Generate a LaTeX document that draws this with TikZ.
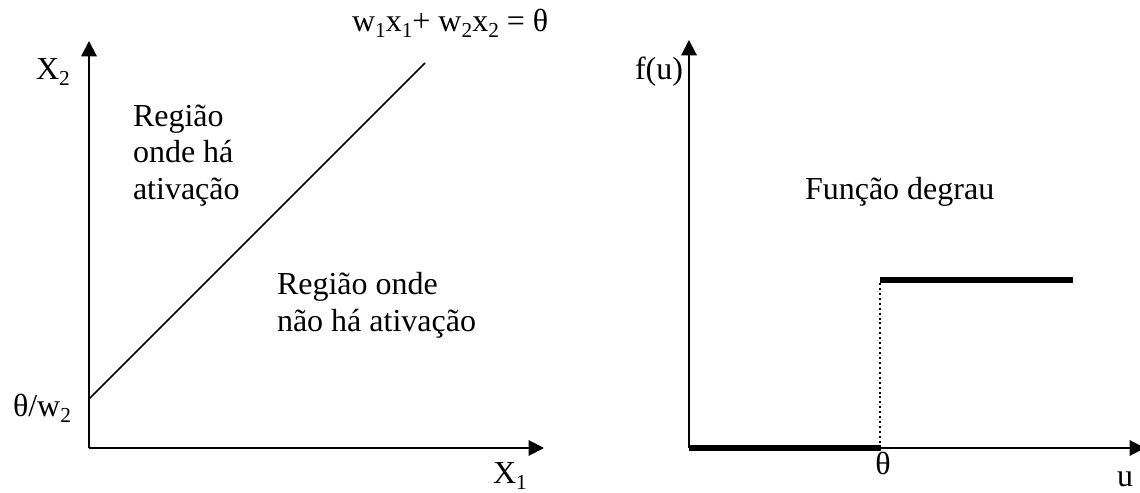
\documentclass[tikz,border=0pt]{standalone}
\usepackage{fontspec}
\setmainfont{Liberation Serif}
\usetikzlibrary{arrows.meta}
\newcommand{\sbs}[1]{\raisebox{-0.17em}{\fontsize{8}{8}\selectfont #1}}
\begin{document}
\begin{tikzpicture}[x=0.375pt,y=-0.375pt,
  lbl/.style={inner sep=0pt,outer sep=0pt,font=\fontsize{12}{13.9}\selectfont},
  axis/.style={line width=0.75pt,-{Triangle[length=5.8pt,width=5.8pt]}},
  thinline/.style={line width=0.6pt},
  thickline/.style={line width=1.9pt},
  dotline/.style={line width=0.6pt,dash pattern=on 0.75pt off 1.1pt}]
\useasboundingbox (0,0) rectangle (1140,493);
\clip (0,0) rectangle (1140,493);
% left chart
\coordinate (O1) at (89,448);
\coordinate (Y1) at (89,41);
\coordinate (X1) at (544,448);
\coordinate (L0) at (89,399);
\coordinate (L1) at (425,63);
\draw[axis] (O1) -- (Y1);
\draw[axis] (O1) -- (X1);
\draw[thinline] (L0) -- (L1);
\node[lbl,anchor=base west] (eq) at (352,32) {w\sbs{1}x\sbs{1}+ w\sbs{2}x\sbs{2} = θ};
\node[lbl,anchor=base west] (x2) at (36,80) {X\sbs{2}};
\node[lbl,anchor=base west] (x1) at (493,484) {X\sbs{1}};
\node[lbl,anchor=base west] (tw) at (13,417) {θ/w\sbs{2}};
\node[lbl,anchor=base west] (ra1) at (133,127) {Região};
\node[lbl,anchor=base west] (ra2) at (133,163) {onde há};
\node[lbl,anchor=base west] (ra3) at (133,200) {ativação};
\node[lbl,anchor=base west] (rn1) at (277,295) {Região onde};
\node[lbl,anchor=base west] (rn2) at (277,332) {não há ativação};
% right chart
\coordinate (O2) at (689,448);
\coordinate (Y2) at (689,40);
\coordinate (X2) at (1145,448);
\coordinate (S0) at (881,448);
\coordinate (S1) at (880,280);
\coordinate (S2) at (1073,280);
\coordinate (D0) at (880,283);
\coordinate (D1) at (880,446);
\draw[axis] (O2) -- (Y2);
\draw[axis] (O2) -- (X2);
\draw[thickline] (O2) -- (S0);
\draw[thickline] (S1) -- (S2);
\draw[dotline] (D0) -- (D1);
\node[lbl,anchor=base east] (fu) at (683,80) {f(u)};
\node[lbl,anchor=base west] (fd) at (805,200) {Função degrau};
\node[lbl,anchor=base] (th) at (883,475) {θ};
\node[lbl,anchor=base] (u) at (1125,487) {u};
\end{tikzpicture}
\end{document}
